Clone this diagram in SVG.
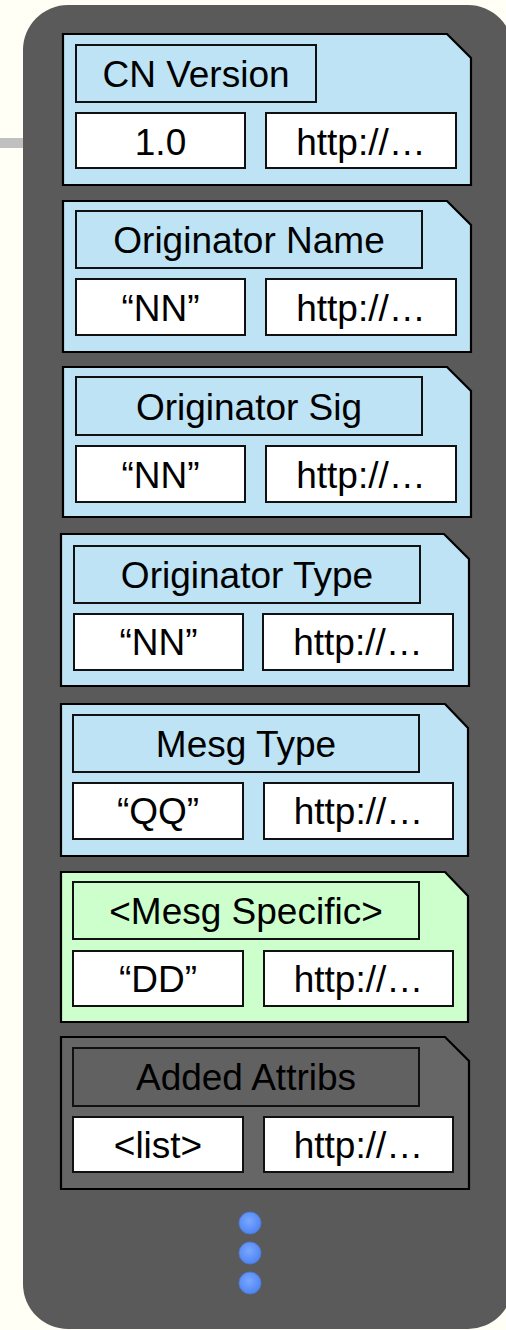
<svg xmlns="http://www.w3.org/2000/svg" width="506" height="1330" viewBox="0 0 506 1330">
  <defs>
    <style>
      .card { stroke: #000; stroke-width: 2.2; stroke-linejoin: miter; }
      .blue { fill: #bde3f4; }
      .green { fill: #ccffcc; }
      .grey { fill: #666666; }
      .title-grey { fill: #616161; }
      .box { stroke: #111; stroke-width: 2; }
      .val { fill: #ffffff; }
      .lbl { font-family: "Liberation Sans", Arial, sans-serif; font-size: 37px; fill: #000; text-anchor: middle; }
    </style>
    <radialGradient id="dotFill" cx="0.45" cy="0.4" r="0.6">
      <stop offset="0" stop-color="#7aa8ff"/>
      <stop offset="1" stop-color="#4f84f2"/>
    </radialGradient>
  </defs>

  <!-- page background -->
  <rect x="0" y="0" width="506" height="1330" fill="#fffff5"/>

  <!-- connectors -->
  <g id="connectors">
    <rect x="0" y="138" width="24" height="10" fill="#c0c0c0"/>
  </g>

  <!-- message container -->
  <g id="container">
    <rect x="23" y="5" width="490" height="1324" rx="45" ry="45" fill="#5a5a5a"/>
  </g>

  <!-- CN Version -->
  <g id="cn-version" transform="translate(63,34)">
    <path class="card blue" d="M0,0 H384 L408,24 V151 H0 Z"/>
    <rect class="box blue" x="13" y="11" width="240" height="57"/>
    <rect class="box val" x="13" y="79" width="169" height="55"/>
    <rect class="box val" x="203" y="79" width="190" height="55"/>
    <text class="lbl" x="133" y="53">CN Version</text>
    <text class="lbl" x="97.5" y="121">1.0</text>
    <text class="lbl" x="298" y="121">http://…</text>
  </g>

  <!-- Originator Name -->
  <g id="originator-name" transform="translate(63,201)">
    <path class="card blue" d="M0,0 H384 L408,24 V151 H0 Z"/>
    <rect class="box blue" x="13" y="10" width="346" height="57"/>
    <rect class="box val" x="13" y="78" width="169" height="56"/>
    <rect class="box val" x="203" y="78" width="190" height="56"/>
    <text class="lbl" x="186" y="52">Originator Name</text>
    <text class="lbl" x="97.5" y="120">“NN”</text>
    <text class="lbl" x="298" y="120">http://…</text>
  </g>

  <!-- Originator Sig -->
  <g id="originator-sig" transform="translate(63,367)">
    <path class="card blue" d="M0,0 H384 L408,24 V150 H0 Z"/>
    <rect class="box blue" x="13" y="10" width="346" height="58"/>
    <rect class="box val" x="13" y="79" width="169" height="56"/>
    <rect class="box val" x="203" y="79" width="190" height="56"/>
    <text class="lbl" x="186" y="53">Originator Sig</text>
    <text class="lbl" x="97.5" y="121">“NN”</text>
    <text class="lbl" x="298" y="121">http://…</text>
  </g>

  <!-- Originator Type -->
  <g id="originator-type" transform="translate(61,534)">
    <path class="card blue" d="M0,0 H383 L408,25 V152 H0 Z"/>
    <rect class="box blue" x="13" y="12" width="346" height="57"/>
    <rect class="box val" x="13" y="80" width="169" height="56"/>
    <rect class="box val" x="202" y="80" width="190" height="56"/>
    <text class="lbl" x="186" y="54">Originator Type</text>
    <text class="lbl" x="97.5" y="121">“NN”</text>
    <text class="lbl" x="297" y="121">http://…</text>
  </g>

  <!-- Mesg Type -->
  <g id="mesg-type" transform="translate(61,704)">
    <path class="card blue" d="M0,0 H384 L407,24 V152 H0 Z"/>
    <rect class="box blue" x="12" y="11" width="346" height="57"/>
    <rect class="box val" x="12" y="79" width="170" height="56"/>
    <rect class="box val" x="203" y="79" width="189" height="56"/>
    <text class="lbl" x="185" y="53">Mesg Type</text>
    <text class="lbl" x="97" y="120">“QQ”</text>
    <text class="lbl" x="297.5" y="120">http://…</text>
  </g>

  <!-- Mesg Specific -->
  <g id="mesg-specific" transform="translate(61,872)">
    <path class="card green" d="M0,0 H384 L407,24 V150 H0 Z"/>
    <rect class="box green" x="12" y="10" width="346" height="57"/>
    <rect class="box val" x="12" y="79" width="170" height="55"/>
    <rect class="box val" x="203" y="79" width="189" height="55"/>
    <text class="lbl" x="185" y="52">&lt;Mesg Specific&gt;</text>
    <text class="lbl" x="97" y="120">“DD”</text>
    <text class="lbl" x="297.5" y="120">http://…</text>
  </g>

  <!-- Added Attribs -->
  <g id="added-attribs" transform="translate(61,1037)">
    <path class="card grey" d="M0,0 H384 L408,24 V152 H0 Z"/>
    <rect class="box title-grey" x="12" y="11" width="346" height="58"/>
    <rect class="box val" x="12" y="80" width="170" height="55"/>
    <rect class="box val" x="203" y="80" width="189" height="55"/>
    <text class="lbl" x="185" y="53">Added Attribs</text>
    <text class="lbl" x="97" y="121">&lt;list&gt;</text>
    <text class="lbl" x="297.5" y="121">http://…</text>
  </g>

  <!-- continuation dots -->
  <g id="more">
    <circle cx="250" cy="1223" r="11" fill="url(#dotFill)" stroke="#4a78d8" stroke-width="0.8"/>
    <circle cx="250" cy="1253" r="11" fill="url(#dotFill)" stroke="#4a78d8" stroke-width="0.8"/>
    <circle cx="250" cy="1283" r="11" fill="url(#dotFill)" stroke="#4a78d8" stroke-width="0.8"/>
  </g>
</svg>
